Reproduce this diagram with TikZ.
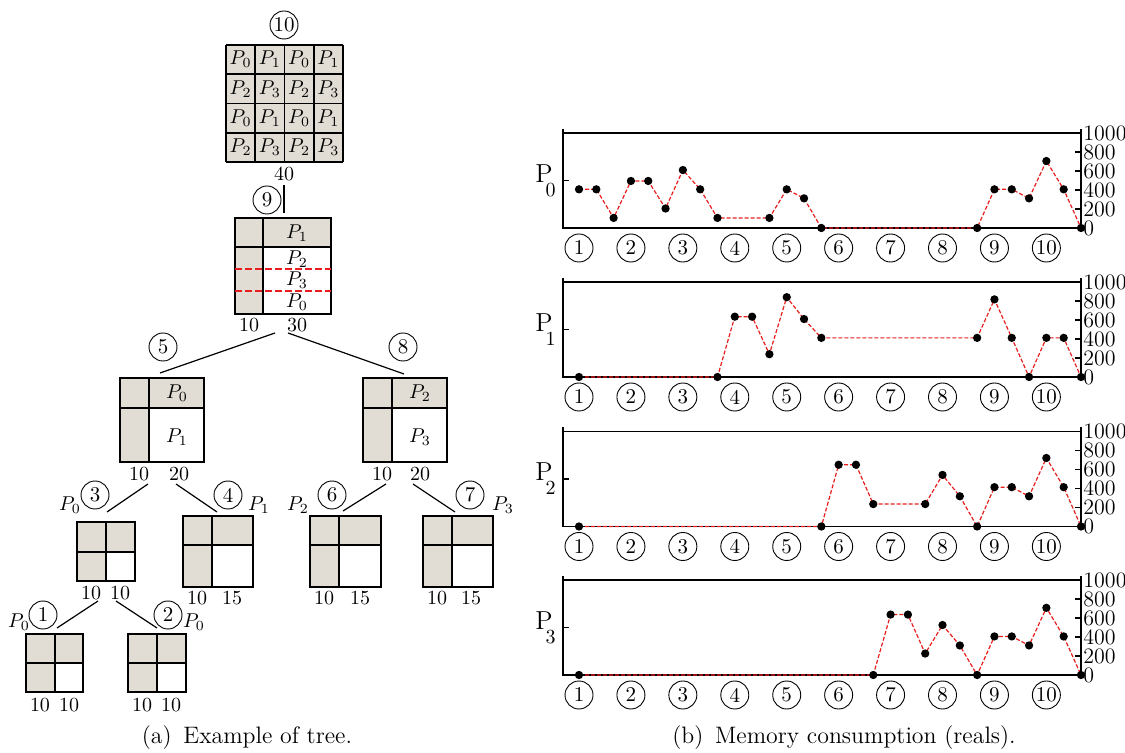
\documentclass[tikz,border=0pt]{standalone}
\usepackage{tikz}
\definecolor{beige}{RGB}{226,221,212}
\definecolor{dred}{RGB}{232,30,30}
\newcommand{\blk}[6]{%
  \fill[beige] (#1,#4) rectangle (#3,#6);
  \fill[white] (#2,#5) rectangle (#3,#6);
  \draw[boxline] (#1,#4) rectangle (#3,#6) (#2,#4) -- (#2,#6) (#1,#5) -- (#3,#5);
}
\newcommand{\panel}[3]{%
  \draw[axisline] (563,#1-99) -- (563,#1) -- (1081,#1) -- (1081,#1-99);
  \draw[axisline] (563,#1-95) -- (1081,#1-95);
  \foreach \v in {0,200,...,1000} {
    \draw[axisline] (1081,{#1-0.095*\v}) -- ++(-6,0);
    \node[ylab] (t#2-\v) at (1083,{#1-0.095*\v}) {\v};
  }
  \draw[axisline] (563,{#1-47.5}) -- ++(6,0);
  \node[plab] (P#2) at (556,{#1-47.5}) {P\kern-3.5pt\raisebox{-7pt}{\fontsize{10}{12}\selectfont #2}};
  \foreach \k in {1,...,10}
    \node[tnum] (c#2-\k) at ({579+51.93*(\k-1)},#1+20) {\k};
  \begin{scope}[shift={(579,#1)},x=8.655pt,y=0.0475pt]
    \draw[dataline] plot[mark=*,mark size=1.75pt,mark options={solid,fill=black,draw=black}] coordinates {#3};
  \end{scope}
}
\begin{document}
\begin{tikzpicture}[x=0.5pt,y=-0.5pt,
  tnum/.style={circle,draw,line width=0.45pt,inner sep=0pt,minimum size=14pt,font=\fontsize{10.5}{12}\selectfont},
  tlab/.style={inner sep=0pt,font=\fontsize{10}{12}\selectfont},
  boxline/.style={line width=0.8pt},
  tedge/.style={line width=0.6pt},
  axisline/.style={line width=0.75pt},
  dataline/.style={dred,dash pattern=on 2pt off 1pt,line width=0.6pt},
  reddash/.style={dred,dash pattern=on 3.5pt off 1.5pt,line width=0.6pt},
  ylab/.style={anchor=west,inner sep=0pt,font=\fontsize{11}{13}\selectfont},
  plab/.style={anchor=east,inner sep=0pt,font=\fontsize{13}{15}\selectfont},
  captext/.style={inner sep=0pt,font=\fontsize{11.9}{14}\selectfont}
]
\useasboundingbox (0,0) rectangle (1125,753);

% ---------- node 10 : 4x4 grid ----------
\node[tnum] (n10) at (284,25) {10};
\fill[beige] (226,45) rectangle (343,162);
\foreach \i in {0,...,4} {
  \draw[boxline] ({226+29.25*\i},45) -- ({226+29.25*\i},162);
  \draw[boxline] (226,{45+29.25*\i}) -- (343,{45+29.25*\i});
}
\foreach \r in {0,...,3} {
  \foreach \c in {0,...,3} {
    \pgfmathtruncatemacro\kk{2*mod(\r,2)+mod(\c,2)}
    \node[tlab] (g\r\c) at ({240.6+29.25*\c},{59.6+29.25*\r}) {$P_{\kk}$};
  }
}
\node[tlab] (l40) at (284,174) {40};
\coordinate (e40a) at (284,185);
\coordinate (e40b) at (284,213);
\draw[tedge] (e40a) -- (e40b);

% ---------- node 9 ----------
\node[tnum] (n9) at (267,200) {9};
\blk{235}{263}{331}{218}{247}{314}
\draw[reddash] (235,269) -- (331,269);
\draw[reddash] (235,291) -- (331,291);
\node[tlab] (b9a) at (297,233) {$P_1$};
\node[tlab] (b9b) at (297,259) {$P_2$};
\node[tlab] (b9c) at (297,280) {$P_3$};
\node[tlab] (b9d) at (297,302) {$P_0$};
\node[tlab] (l9a) at (249,325) {10};
\node[tlab] (l9b) at (297,325) {30};
\coordinate (e9l) at (275,333);
\coordinate (e9r) at (288,333);
\coordinate (t5) at (160,373);
\coordinate (t8) at (404,374);
\draw[tedge] (e9l) -- (t5);
\draw[tedge] (e9r) -- (t8);

% ---------- node 5 ----------
\node[tnum] (n5) at (163,347) {5};
\blk{120}{149}{204}{378}{408}{462}
\node[tlab] (b5a) at (177,393) {$P_0$};
\node[tlab] (b5b) at (177,437) {$P_1$};
\node[tlab] (l5a) at (139,474) {10};
\node[tlab] (l5b) at (179,474) {20};
% ---------- node 8 ----------
\node[tnum] (n8) at (403,347) {8};
\blk{363}{392}{447}{378}{408}{462}
\node[tlab] (b8a) at (420,393) {$P_2$};
\node[tlab] (b8b) at (420,437) {$P_3$};
\node[tlab] (l8a) at (382,474) {10};
\node[tlab] (l8b) at (420,474) {20};

\coordinate (e5l) at (148,484);
\coordinate (e5r) at (176,484);
\coordinate (t3) at (107,512);
\coordinate (t4) at (217,512);
\draw[tedge] (e5l) -- (t3);
\draw[tedge] (e5r) -- (t4);
\coordinate (e8l) at (386,484);
\coordinate (e8r) at (413,484);
\coordinate (t6) at (343,511);
\coordinate (t7) at (455,512);
\draw[tedge] (e8l) -- (t6);
\draw[tedge] (e8r) -- (t7);

% ---------- node 3 ----------
\node[tnum] (n3) at (95,495) {3};
\node[tlab] (p3) at (70,505) {$P_0$};
\blk{77}{106}{135}{522}{552}{581}
\node[tlab] (l3a) at (91,593) {10};
\node[tlab] (l3b) at (120,593) {10};
% ---------- node 4 ----------
\node[tnum] (n4) at (228,495) {4};
\node[tlab] (p4) at (259,505) {$P_1$};
\blk{183}{212}{253}{516}{545}{587}
\node[tlab] (l4a) at (197,598) {10};
\node[tlab] (l4b) at (232,598) {15};
% ---------- node 6 ----------
\node[tnum] (n6) at (332,495) {6};
\node[tlab] (p6) at (298,505) {$P_2$};
\blk{310}{339}{381}{516}{545}{587}
\node[tlab] (l6a) at (324,598) {10};
\node[tlab] (l6b) at (360,598) {15};
% ---------- node 7 ----------
\node[tnum] (n7) at (470,495) {7};
\node[tlab] (p7) at (503,505) {$P_3$};
\blk{423}{452}{493}{516}{545}{587}
\node[tlab] (l7a) at (437,598) {10};
\node[tlab] (l7b) at (471,598) {15};

\coordinate (e3l) at (98,601);
\coordinate (e3r) at (116,601);
\coordinate (t1) at (57,628);
\coordinate (t2) at (157,628);
\draw[tedge] (e3l) -- (t1);
\draw[tedge] (e3r) -- (t2);

% ---------- node 1 ----------
\node[tnum] (n1) at (43,615) {1};
\node[tlab] (p1) at (19,622) {$P_0$};
\blk{26}{55}{83}{634}{663}{692}
\node[tlab] (l1a) at (40,705) {10};
\node[tlab] (l1b) at (69,705) {10};
% ---------- node 2 ----------
\node[tnum] (n2) at (168,615) {2};
\node[tlab] (p2) at (194,622) {$P_0$};
\blk{128}{157}{186}{634}{663}{692}
\node[tlab] (l2a) at (142,705) {10};
\node[tlab] (l2b) at (171,705) {10};

\node[captext] (capa) at (247,738) {(a)\, Example of tree.};

% ---------- plots ----------
\panel{228}{0}{(0,407) (1,407) (2,106) (3,495) (4,495) (5,205) (6,610) (7,407) (8,106) (11,106) (12,407) (13,312) (14,0) (23,0) (24,407) (25,407) (26,312) (27,705) (28,407) (29,0)}
\panel{377}{1}{(0,0) (8,0) (9,635) (10,635) (11,240) (12,840) (13,610) (14,412) (23,412) (24,817) (25,412) (26,0) (27,412) (28,412) (29,0)}
\panel{526.5}{2}{(0,0) (14,0) (15,650) (16,650) (17,236) (20,236) (21,543) (22,318) (23,0) (24,414) (25,414) (26,318) (27,721) (28,414) (29,0)}
\panel{675}{3}{(0,0) (17,0) (18,636) (19,636) (20,226) (21,526) (22,311) (23,0) (24,406) (25,406) (26,311) (27,707) (28,406) (29,0)}

\node[captext] (capb) at (844,738) {(b)\, Memory consumption (reals).};
\end{tikzpicture}
\end{document}
